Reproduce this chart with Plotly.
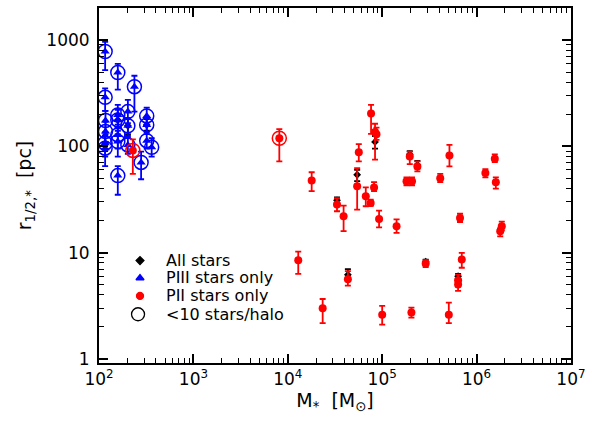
import plotly.graph_objects as go
import numpy as np

# ---------------- data ----------------
# PIII-only halos (blue triangles), all with <10 stars (circled)
piii_mass = [116, 158, 237, 116, 117, 117, 116, 116, 158, 158, 158, 158, 158,
             202, 202, 202, 279, 320, 320, 320, 361]
piii_r    = [780, 495, 364, 289, 175, 138, 107, 96, 197, 177, 128, 111, 53,
             212, 156, 103, 70.5, 193, 159, 113, 98]
piii_hi   = [960, 597, 461, 351, 215, 170, 135, 125, 245, 220, 160, 140, 65,
             273, 185, 125, 89, 231, 185, 135, 119]
piii_lo   = [520, 341, 212, 215, 130, 110, 80, 65, 150, 130, 95, 80, 35,
             165, 120, 85, 49, 160, 130, 95, 80]

# PII-only halos (red dots)
pii_mass = [228, 8130, 17900, 12900, 23400, 33200, 39000, 43300, 54300, 56500,
            76200, 84000, 87000, 67000, 75500, 82000, 92700, 100000, 142000,
            196000, 236000, 181000, 207000, 204000, 289000, 516000, 412000,
            1.24e6, 1.56e6, 1.6e6, 668000, 1.85e6, 1.78e6, 697000, 637000,
            637000, 508000]
pii_r    = [91.5, 119, 47.8, 8.45, 3.0, 28.3, 22, 5.6, 42, 88,
            203, 136, 130, 33.9, 29.3, 41, 20.7, 2.6, 17.7,
            80, 64.7, 46.8, 46.8, 2.73, 7.9, 82, 50,
            56, 76.4, 45.8, 21.2, 17.7, 15.9, 8.6, 5.5,
            5.0, 2.6]
pii_hi   = [116, 145, 57, 10.2, 3.66, 32.6, 27.7, 6.7, 62.4, 105,
            245, 163, 150, 41, 31.5, 46, 24.8, 3.16, 20.5,
            89, 72, 51, 51, 3.04, 8.5, 103, 55,
            61, 84, 51, 23.2, 19.6, 17.0, 9.95, 6.2,
            5.4, 3.39]
pii_lo   = [55, 72, 37.8, 6.3, 2.17, 24.5, 15.9, 4.9, 25.4, 72,
            131, 75, 115, 27.3, 27.5, 37.8, 17.3, 2.1, 15.3,
            68, 58, 43, 43, 2.45, 7.3, 64.7, 46,
            51, 71, 40, 19.4, 16.2, 14.2, 7.2, 4.8,
            4.36, 2.17]
pii_few  = [1, 1, 0, 0, 0, 0, 0, 0, 0, 0,
            0, 0, 0, 0, 0, 0, 0, 0, 0,
            0, 0, 0, 0, 0, 0, 0, 0,
            0, 0, 0, 0, 0, 0, 0, 0,
            0, 0]

# All stars (black diamonds)
all_mass = [33200, 54300, 84000, 43300, 196000, 236000, 289000, 637000,
            202, 158, 116, 320]
all_r    = [31, 54, 110, 6.2, 84, 67, 8.2, 6.0,
            156, 177, 107, 159]
all_hi   = [33, 60, 125, 7.0, 90, 73, 8.6, 6.3,
            180, 200, 125, 180]
all_lo   = [29, 47, 95, 5.6, 78, 62, 7.6, 5.3,
            130, 150, 90, 140]

legend_labels = ["All stars", "PIII stars only", "PII stars only", "<10 stars/halo"]
x_ticks = [1e2, 1e3, 1e4, 1e5, 1e6, 1e7]
x_tick_text = ["10<sup>2</sup>", "10<sup>3</sup>", "10<sup>4</sup>",
               "10<sup>5</sup>", "10<sup>6</sup>", "10<sup>7</sup>"]

# ---------------- figure ----------------
def errs(v, hi, lo):
    v = np.array(v, float)
    return np.array(hi, float) - v, v - np.array(lo, float)

FONT = "DejaVu Sans"
fig = go.Figure()

# black: all stars
p, m = errs(all_r, all_hi, all_lo)
fig.add_trace(go.Scatter(
    x=all_mass, y=all_r, mode="markers", showlegend=False,
    marker=dict(symbol="diamond", size=6, color="black"),
    error_y=dict(type="data", array=p, arrayminus=m, color="black",
                 thickness=1.8, width=3)))

# blue: PIII only
p, m = errs(piii_r, piii_hi, piii_lo)
fig.add_trace(go.Scatter(
    x=piii_mass, y=piii_r, mode="markers", showlegend=False,
    marker=dict(symbol="triangle-up", size=8, color="#0000ff"),
    error_y=dict(type="data", array=p, arrayminus=m, color="#0000ff",
                 thickness=1.8, width=3)))
fig.add_trace(go.Scatter(
    x=piii_mass, y=piii_r, mode="markers", showlegend=False,
    marker=dict(symbol="circle-open", size=14, color="#0000ff",
                line=dict(width=1.5, color="#0000ff"))))

# red: PII only
p, m = errs(pii_r, pii_hi, pii_lo)
fig.add_trace(go.Scatter(
    x=pii_mass, y=pii_r, mode="markers", showlegend=False,
    marker=dict(symbol="circle", size=8, color="#ff0000"),
    error_y=dict(type="data", array=p, arrayminus=m, color="#ff0000",
                 thickness=1.8, width=3)))
fx = [x for x, f in zip(pii_mass, pii_few) if f]
fy = [y for y, f in zip(pii_r, pii_few) if f]
fig.add_trace(go.Scatter(
    x=fx, y=fy, mode="markers", showlegend=False,
    marker=dict(symbol="circle-open", size=14, color="#ff0000",
                line=dict(width=1.5, color="#ff0000"))))

# manual legend (symbols on an overlay axis in [0,1] units, text as annotations)
L, R, T, B = 98.7, 574.0, 6.0, 363.0
def px2x(px): return (px - L) / (R - L)
def py2y(py): return 1 - (py - T) / (B - T)

leg_rows = [260, 277.5, 295.5, 314]
leg_sym = ["diamond", "triangle-up", "circle", "circle-open"]
leg_size = [6, 7, 7, 13]
leg_col = ["black", "#0000ff", "#ff0000", "black"]
leg_symx = [140, 140, 140, 138]
for lab, row, s, sz, c, sx in zip(legend_labels, leg_rows, leg_sym, leg_size,
                                  leg_col, leg_symx):
    fig.add_trace(go.Scatter(
        x=[px2x(sx)], y=[py2y(row)], xaxis="x2", yaxis="y2", mode="markers",
        showlegend=False, hoverinfo="skip",
        marker=dict(symbol=s, size=sz, color=c, line=dict(width=1.3, color=c))))
    fig.add_annotation(x=px2x(165), y=py2y(row), xref="paper", yref="paper",
                       text=lab, showarrow=False, xanchor="left",
                       yanchor="middle", borderpad=0,
                       font=dict(family=FONT, size=16, color="black"))

axis_common = dict(
    type="log", showline=True, linecolor="black", linewidth=2, mirror="ticks",
    ticks="inside", ticklen=9, tickwidth=1.5, tickcolor="black",
    showgrid=False, zeroline=False, ticklabeloverflow="allow",
    tickfont=dict(family=FONT, size=17, color="black"),
    minor=dict(ticks="inside", ticklen=5, tickwidth=1.2, tickcolor="black",
               dtick="D1", showgrid=False),
)

fig.update_layout(
    width=592, height=423,
    margin=dict(l=99, r=18, t=6, b=60),
    paper_bgcolor="white", plot_bgcolor="white",
    font=dict(family=FONT, size=17, color="black"),
    showlegend=False,
    xaxis=dict(**axis_common, range=[1.9995, 7.0005],
               tickmode="array", tickvals=x_ticks, ticktext=x_tick_text,
               title=dict(text="M<sub>*</sub>  [M<sub>⊙</sub>]",
                          font=dict(family=FONT, size=19), standoff=3)),
    yaxis=dict(**axis_common, range=[np.log10(0.915), np.log10(2000)],
               tickmode="linear", tick0=0, dtick=1, exponentformat="none",
               ticklabelstandoff=4,
               title=dict(text="r<sub>1/2,*</sub>  [pc]",
                          font=dict(family=FONT, size=19), standoff=10)),
    xaxis2=dict(overlaying="x", range=[0, 1], visible=False, fixedrange=True),
    yaxis2=dict(overlaying="y", range=[0, 1], visible=False, fixedrange=True),
)

fig.write_html("out.html")
